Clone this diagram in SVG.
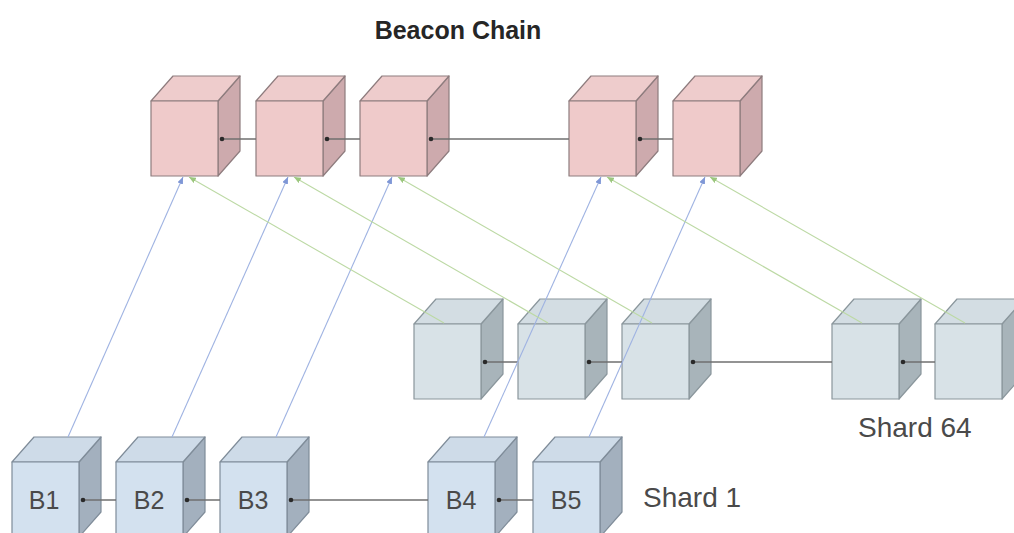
<svg xmlns="http://www.w3.org/2000/svg" width="1014" height="533" viewBox="0 0 1014 533">
  <style>
    .face { stroke-width: 1.2; stroke-linejoin: round; }
    .beacon { --front: #efcaca; --top: #eecccc; --side: #cdaaad; --edge: #8e7c7e; }
    .s64 { --front: #d8e2e7; --top: #d3dde3; --side: #a8b4ba; --edge: #8a969c; }
    .s1 { --front: #d3e1ef; --top: #cedbe8; --side: #a3b0be; --edge: #7f8c99; }
    .front { fill: var(--front); stroke: var(--edge); }
    .top { fill: var(--top); stroke: var(--edge); }
    .side { fill: var(--side); stroke: var(--edge); }
    .chain { stroke: #6f6f6f; stroke-width: 1.5; fill: none; marker-start: url(#dot); }
    .up-blue { stroke: #9fb3e2; stroke-width: 1.1; fill: none; marker-end: url(#headBlue); }
    .up-green { stroke: #bcd9a4; stroke-width: 1.1; fill: none; marker-end: url(#headGreen); }
    .label { font-family: "Liberation Sans", Arial, sans-serif; fill: #4a4a4a; }
    .blk { font-size: 25px; text-anchor: middle; }
    .shard { font-size: 28px; }
    .title { font-size: 25px; font-weight: bold; fill: #262626; text-anchor: middle; }
  </style>
  <defs>
    <!-- one cube, front face top-left corner at the origin; colours come from the row's custom properties -->
    <g id="cube">
      <path class="face side" d="M67,0 l22,-25 v75 l-22,25 z"/>
      <path class="face top" d="M0,0 l22,-25 h67 l-22,25 z"/>
      <path class="face front" d="M0,0 h67 v75 h-67 z"/>
    </g>
    <marker id="dot" viewBox="-3 -3 6 6" markerWidth="6" markerHeight="6" markerUnits="userSpaceOnUse" refX="0" refY="0">
      <circle r="2.3" fill="#2a2a2a"/>
    </marker>
    <marker id="headBlue" viewBox="0 -3 7 6" markerWidth="7" markerHeight="6" markerUnits="userSpaceOnUse" refX="7" refY="0" orient="auto">
      <path d="M0,-3 L7,0 L0,3 z" fill="#7f97d6"/>
    </marker>
    <marker id="headGreen" viewBox="0 -3 7 6" markerWidth="7" markerHeight="6" markerUnits="userSpaceOnUse" refX="7" refY="0" orient="auto">
      <path d="M0,-3 L7,0 L0,3 z" fill="#9cc77e"/>
    </marker>
  </defs>

  <text class="label title" x="458" y="39">Beacon Chain</text>

  <!-- beacon chain blocks -->
  <g class="beacon">
    <g id="beacon-1" transform="translate(151,101)"><use href="#cube"/></g>
    <g id="beacon-2" transform="translate(256,101)"><use href="#cube"/></g>
    <g id="beacon-3" transform="translate(360,101)"><use href="#cube"/></g>
    <g id="beacon-4" transform="translate(569,101)"><use href="#cube"/></g>
    <g id="beacon-5" transform="translate(673,101)"><use href="#cube"/></g>
  </g>

  <!-- shard 64 blocks -->
  <g class="s64">
    <g id="s64-1" transform="translate(414,324)"><use href="#cube"/></g>
    <g id="s64-2" transform="translate(518,324)"><use href="#cube"/></g>
    <g id="s64-3" transform="translate(622,324)"><use href="#cube"/></g>
    <g id="s64-4" transform="translate(832,324)"><use href="#cube"/></g>
    <g id="s64-5" transform="translate(935,324)"><use href="#cube"/></g>
  </g>

  <!-- shard 1 blocks -->
  <g class="s1">
    <g id="B1" transform="translate(12,462)"><use href="#cube"/><text class="label blk" x="32" y="47">B1</text></g>
    <g id="B2" transform="translate(116,462)"><use href="#cube"/><text class="label blk" x="33" y="47">B2</text></g>
    <g id="B3" transform="translate(220,462)"><use href="#cube"/><text class="label blk" x="33" y="47">B3</text></g>
    <g id="B4" transform="translate(428,462)"><use href="#cube"/><text class="label blk" x="33" y="47">B4</text></g>
    <g id="B5" transform="translate(533,462)"><use href="#cube"/><text class="label blk" x="33" y="47">B5</text></g>
  </g>

  <text class="label shard" x="858" y="437">Shard 64</text>
  <text class="label shard" x="643" y="507">Shard 1</text>

  <!-- connectors: parent links within each chain, and cross-links up to the beacon chain -->
  <g id="connectors">
    <path class="chain" d="M222,139 H256"/>
    <path class="chain" d="M327,139 H360"/>
    <path class="chain" d="M431,139 H569"/>
    <path class="chain" d="M640,139 H673"/>

    <path class="chain" d="M485,362 H518"/>
    <path class="chain" d="M589,362 H622"/>
    <path class="chain" d="M693,362 H832"/>
    <path class="chain" d="M903,362 H935"/>

    <path class="chain" d="M83,500 H116"/>
    <path class="chain" d="M187,500 H220"/>
    <path class="chain" d="M291,500 H428"/>
    <path class="chain" d="M499,500 H533"/>

    <path class="up-blue" d="M68,437 L183,177"/>
    <path class="up-blue" d="M172,437 L288,177"/>
    <path class="up-blue" d="M276,437 L392,177"/>
    <path class="up-blue" d="M484,437 L601,177"/>
    <path class="up-blue" d="M589,437 L705,177"/>

    <path class="up-green" d="M444,323 L189,177"/>
    <path class="up-green" d="M548,323 L294,177"/>
    <path class="up-green" d="M652,323 L398,177"/>
    <path class="up-green" d="M862,323 L607,177"/>
    <path class="up-green" d="M965,323 L710,177"/>
  </g>
</svg>
